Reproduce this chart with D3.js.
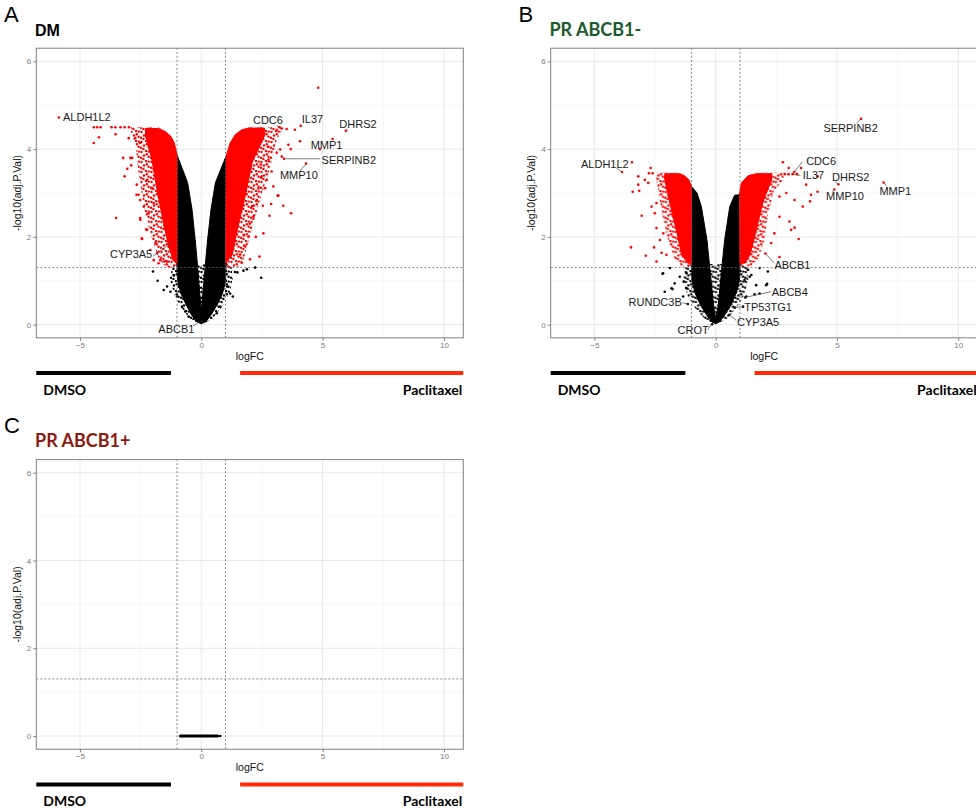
<!DOCTYPE html>
<html>
<head>
<meta charset="UTF-8">
<title>Volcano plots</title>
<script src="https://d3js.org/d3.v7.min.js"></script>
<style>
  body { margin: 0; background: #fff; }
  svg { display: block; }
  .tick-label { font-family: "Liberation Sans", Arial, sans-serif; font-size: 8px; fill: #7a7a7a; }
  .axis-title { font-family: "Liberation Sans", Arial, sans-serif; font-size: 10.5px; fill: #111; }
  .gene { font-family: "Liberation Sans", Arial, sans-serif; font-size: 11px; fill: #1a1a1a; }
</style>
</head>
<body>
<svg id="chart" width="976" height="810"></svg>
<script>
// ---- axis settings ----
const xDomain = [-6.8, 10.8];
const yDomain = [-0.3, 6.3];
const xMajor = [-5, 0, 5, 10], xMinor = [-2.5, 2.5, 7.5];
const yMajor = [0, 2, 4, 6], yMinor = [1, 3, 5];
const fcCut = 1, pCut = 1.30103;

// ---- panel A : DM ----
// dense black (non significant) V and its sparser lower fringe
const aBlackV = [[-1,3.87],[-1,1.3],[-0.97,1.0],[-0.85,0.72],[-0.62,0.45],[-0.4,0.22],[-0.2,0.07],[0,0.02],
  [0.2,0.07],[0.4,0.22],[0.65,0.45],[0.88,0.72],[1.0,1.0],[1.02,1.3],[1.03,3.85],
  [0.58,3.23],[0.40,2.62],[0.26,1.93],[0.16,1.32],[0.04,0.56],[0,0.3],[-0.04,0.56],[-0.15,1.32],[-0.25,1.93],[-0.38,2.62],[-0.56,3.23]];
const aBlackFringe = [[-1,1.38],[-1.2,1.3],[-1.3,1.05],[-1.12,0.7],[-0.85,0.4],[-0.45,0.13],[0,0],[0.45,0.13],[0.85,0.4],
  [1.15,0.7],[1.3,1.05],[1.25,1.3],[1,1.38]];
// dense red clouds (core) and their sparser fringe
const aRedLeft = [[-1,1.4],[-1,3.87],[-1.11,4.14],[-1.25,4.29],[-1.48,4.40],[-1.75,4.47],[-2.3,4.47],[-2.3,4.3],[-2.05,3.8],
  [-1.8,3.0],[-1.55,2.3],[-1.35,1.8],[-1.15,1.45]];
const aRedLeftFringe = [[-1,1.3],[-1,3.87],[-1.11,4.14],[-1.25,4.29],[-1.48,4.40],[-1.75,4.49],[-2.9,4.5],[-2.9,4.4],
  [-2.7,4.1],[-2.6,3.5],[-2.4,2.8],[-2.3,2.5],[-2.05,2.0],[-1.75,1.5],[-1.45,1.3]];
const aRedRight = [[1,1.4],[1.03,3.85],[1.19,4.14],[1.40,4.33],[1.67,4.44],[1.95,4.48],[2.6,4.48],[2.6,4.3],[2.1,3.7],
  [1.8,2.9],[1.5,2.2],[1.28,1.6]];
const aRedRightFringe = [[1,1.3],[1.03,3.85],[1.19,4.14],[1.40,4.33],[1.67,4.44],[1.95,4.49],[3.3,4.5],[3.3,4.4],[3.1,4.2],
  [2.8,3.5],[2.5,3.0],[2.25,2.5],[2.0,2.0],[1.75,1.5],[1.5,1.3]];
const aRedPts = [[-5.87,4.72],[-4.43,4.5],[-4.29,4.5],[-4.15,4.5],[-3.70,4.5],[-3.54,4.5],[-3.33,4.5],[-3.16,4.5],[-2.98,4.5],
  [-4.22,4.27],[-4.43,4.14],[-3.53,4.34],[-3.22,3.80],[-3.16,3.38],[-2.92,3.80],[-2.99,4.25],[-2.89,3.63],[-3.05,3.55],
  [-3.51,2.43],[-2.67,2.96],[-2.51,2.39],[-2.44,1.95],[-2.23,2.16],[-1.96,2.77],[-1.89,1.86],[-1.82,1.63],[-1.69,1.47],
  [-1.41,1.44],[-2.17,2.54],[-2.37,2.69],[-2.03,3.11],[-2.66,3.19],[-2.59,2.96],[-2.52,2.84],[-2.52,2.43],[-2.45,1.97],
  [-2.27,2.17],[-2.10,1.70],[-2.23,3.30],[-2.85,3.80],[-2.52,4.14],[-2.72,4.25],[-1.96,1.47],[-1.76,1.40],[-1.53,1.44],[-1.15,1.89],
  [4.82,5.40],[4.10,4.53],[3.86,4.44],[3.52,4.46],[4.07,4.18],[5.96,4.42],[5.41,4.23],[4.89,4.00],[3.41,3.78],[4.32,3.67],
  [3.70,2.54],[3.38,2.71],[3.15,2.94],[2.88,2.75],[2.81,2.48],[2.56,2.08],[2.54,2.71],[2.40,1.55],[2.01,1.49],[1.67,1.41],
  [2.90,3.49],[2.97,3.15],[2.63,3.11],[3.25,3.99],[3.32,3.83],[3.59,4.10],[3.69,4.00],[3.11,3.92],[3.32,4.47],[3.11,4.44],
  [3.22,4.50],[2.77,3.76],[2.49,3.38],[2.29,2.84],[2.15,2.46],[1.95,2.01],[1.81,1.78],[3.18,2.94],[2.6,4.35],[2.75,4.05],
  [2.45,3.65],[2.7,3.3],[2.35,3.1],[2.1,2.7],[2.0,2.3],[1.75,2.05],[2.25,2.0],[1.6,1.6]];
const aBlackPts = [[-1.99,1.21],[-1.80,1.00],[1.30,0.64],[2.47,1.07],[2.22,1.30],[1.88,1.26],[1.74,1.23],[1.49,1.19],[1.39,1.20],
  [-1.14,1.13],[-1.41,0.87],[-1.55,0.79],[-1.27,0.75],[-1.0,0.64],[-0.79,0.41],[-0.66,0.30],[-0.52,0.18],[1.06,0.87],
  [1.19,0.71],[0.99,1.02],[0.78,0.41],[0.64,0.26],[-0.09,0.06]];
// gene labels: text anchor (tx,ty), optional segment from (sx,sy) to point (px,py)
const aLabels = [
  {gene:"ALDH1L2", tx:-5.70, ty:4.63},
  {gene:"CDC6", tx:2.13, ty:4.57, sx:3.12, sy:4.54, px:3.22, py:4.50},
  {gene:"IL37", tx:4.14, ty:4.60},
  {gene:"DHRS2", tx:5.69, ty:4.48, sx:6.05, sy:4.46, px:5.96, py:4.42},
  {gene:"MMP1", tx:4.51, ty:4.00},
  {gene:"SERPINB2", tx:4.96, ty:3.67, sx:4.89, sy:3.78, px:3.41, py:3.78},
  {gene:"MMP10", tx:3.24, ty:3.32, sx:4.07, sy:3.50, px:4.32, py:3.67},
  {gene:"CYP3A5", tx:-3.76, ty:1.52, sx:-1.99, sy:1.56, px:-1.15, py:1.89},
  {gene:"ABCB1", tx:-1.77, ty:-0.19, sx:-0.34, sy:-0.03, px:-0.09, py:0.06}
];

// ---- panel B : PR ABCB1- ----
const bBlackV = [[-1,3.15],[-1,1.3],[-0.98,1.0],[-0.85,0.72],[-0.6,0.42],[-0.35,0.2],[-0.15,0.06],[0,0.02],
  [0.15,0.06],[0.35,0.2],[0.6,0.42],[0.85,0.72],[0.98,1.0],[1.0,1.3],[0.98,2.96],
  [0.78,2.95],[0.58,2.69],[0.37,1.93],[0.23,1.17],[0.10,0.41],[0,0.15],[-0.08,0.41],[-0.22,1.17],[-0.36,1.93],[-0.59,2.69],[-0.77,3.0]];
const bBlackFringe = [[-1,1.38],[-1.25,1.3],[-1.35,1.0],[-1.15,0.65],[-0.85,0.38],[-0.45,0.13],[0,0],[0.45,0.13],[0.85,0.38],
  [1.15,0.65],[1.35,1.0],[1.3,1.3],[1,1.38]];
const bRedLeft = [[-1,1.4],[-1,3.15],[-1.1,3.3],[-1.3,3.4],[-1.5,3.44],[-2.1,3.44],[-2.1,3.3],[-1.9,2.8],[-1.6,2.1],
  [-1.4,1.6],[-1.15,1.4]];
const bRedLeftFringe = [[-1,1.33],[-1,3.15],[-1.1,3.3],[-1.3,3.4],[-1.5,3.46],[-2.45,3.47],[-2.45,3.3],[-2.35,3.0],
  [-2.2,2.5],[-1.95,1.9],[-1.7,1.5],[-1.4,1.33]];
const bRedRight = [[1,1.4],[0.98,2.96],[1.06,3.23],[1.33,3.39],[1.67,3.44],[2.3,3.44],[2.3,3.3],[1.95,2.8],[1.65,2.1],
  [1.42,1.6],[1.2,1.4]];
const bRedRightFringe = [[1,1.33],[0.98,2.96],[1.06,3.23],[1.33,3.39],[1.67,3.46],[2.8,3.47],[2.8,3.3],[2.4,3.05],
  [2.15,2.5],[2.0,1.9],[1.75,1.5],[1.45,1.33]];
const bRedPts = [[-3.45,3.70],[-3.86,3.48],[-2.68,3.57],[-3.42,3.03],[-3.15,3.05],[-3.19,3.38],[-3.05,2.48],[-3.49,1.76],
  [-2.88,1.57],[-2.54,1.76],[-2.30,1.93],[-2.44,2.20],[-2.44,2.77],[-2.78,3.23],[-2.92,3.30],[-2.64,2.69],[-2.23,1.64],
  [-2.03,1.59],[-2.16,2.08],[-3.19,3.19],[-2.51,2.54],[-2.44,1.44],[-2.6,3.45],[-2.75,3.45],
  [2.77,3.70],[3.01,3.57],[3.52,3.57],[4.20,3.38],[4.20,3.03],[3.89,2.81],[3.59,2.69],[3.93,2.96],[3.25,2.84],[2.91,3.00],
  [2.63,2.92],[3.42,1.95],[3.04,2.35],[3.11,2.16],[2.63,2.46],[2.42,2.08],[2.63,1.54],[2.29,1.86],[2.05,1.62],[3.25,2.21],
  [3.73,3.19],[5.99,4.69],[5.06,3.20],[4.89,3.08],[6.92,3.24],[3.24,3.48],[3.17,3.43],[2.85,3.43],[3.0,3.43],[3.35,3.43]];
const bBlackPts = [[-1.89,1.29],[-2.17,1.17],[-1.82,0.83],[-1.69,0.94],[-1.20,1.17],[-1.20,0.83],[-1.34,0.64],[-2.19,1.16],
  [-2.10,0.75],[-1.78,0.81],[-1.32,0.98],[-1.48,1.09],[1.33,1.25],[1.47,1.13],[1.67,0.90],[1.81,0.71],[2.08,0.90],[1.26,0.64],
  [1.13,0.41],[1.19,1.02],[1.81,1.29],[2.15,1.21],[2.12,0.93],[1.40,1.09],[1.22,0.62],[1.60,0.69],[0.77,0.39],[0.56,0.22],
  [-1.15,0.47],[-0.15,0.01]];
const bLabels = [
  {gene:"SERPINB2", tx:4.44, ty:4.40, sx:5.80, sy:4.59, px:5.99, py:4.69},
  {gene:"ALDH1L2", tx:-5.55, ty:3.57, sx:-4.09, sy:3.57, px:-3.86, py:3.48},
  {gene:"CDC6", tx:3.73, ty:3.63, sx:3.57, sy:3.71, px:3.24, py:3.48},
  {gene:"IL37", tx:3.59, ty:3.31, sx:3.49, sy:3.40, px:3.17, py:3.43},
  {gene:"DHRS2", tx:4.80, ty:3.28, sx:4.93, sy:3.25, px:5.06, py:3.20},
  {gene:"MMP10", tx:4.55, ty:2.84, sx:4.81, sy:3.02, px:4.89, py:3.08},
  {gene:"MMP1", tx:6.75, ty:2.95, sx:7.04, sy:3.16, px:6.92, py:3.24},
  {gene:"ABCB1", tx:2.42, ty:1.27, sx:2.42, sy:1.40, px:2.05, py:1.62},
  {gene:"ABCB4", tx:2.31, ty:0.65, sx:2.28, sy:0.75, px:1.22, py:0.62},
  {gene:"TP53TG1", tx:1.18, ty:0.31, sx:1.15, sy:0.41, px:0.77, py:0.39},
  {gene:"CYP3A5", tx:0.88, ty:-0.03, sx:0.84, sy:0.10, px:0.56, py:0.22},
  {gene:"RUNDC3B", tx:-3.59, ty:0.42, sx:-1.38, sy:0.50, px:-1.15, py:0.47},
  {gene:"CROT", tx:-1.57, ty:-0.21, sx:-0.33, sy:-0.11, px:-0.15, py:0.01}
];

// ---- panel C : PR ABCB1+ (all genes at adj.P = 1) ----
const cLine = [[-0.86,0],[0.67,0]];
const cBlackPts = [[0.78,0]];

const svg = d3.select("#chart");
svg.append("rect").attr("width", 976).attr("height", 810).attr("fill", "#fff");

// speckle textures for the sparse fringes of the point clouds
const defs = svg.append("defs");
const speck = [[1.5,2],[6,1],[4,5.5],[8.6,6.8],[1,7.8],[6.8,4.2],[3.4,9],[8.8,1.6]];
[["speckRed", "#ff0000"], ["speckBlack", "#000"]].forEach(([id, col]) => {
  const p = defs.append("pattern").attr("id", id).attr("patternUnits", "userSpaceOnUse").attr("width", 10).attr("height", 10);
  p.selectAll("circle").data(speck).join("circle").attr("cx", d => d[0]).attr("cy", d => d[1]).attr("r", 1.2).attr("fill", col);
});

function panel(ox, oy, letter, title, titleFont, titleColor, d) {
  const g = svg.append("g").attr("transform", `translate(${ox},${oy})`);
  const x = d3.scaleLinear().domain(xDomain).range([36.3, 463.3]);
  const y = d3.scaleLinear().domain(yDomain).range([337.8, 48.2]);
  const [x0, x1] = x.range(), [y0, y1] = y.range();

  g.append("text").attr("x", 4).attr("y", 21.5)
    .style("font-family", "Liberation Sans, Arial, sans-serif").style("font-size", "22px").text(letter);
  g.append("text").attr("x", 35).attr("y", 36)
    .style("font-family", titleFont.family).style("font-size", titleFont.size).style("font-weight", "bold")
    .attr("fill", titleColor).text(title);

  // grid
  g.selectAll(".gxm").data(xMinor).join("line").attr("x1", x).attr("x2", x).attr("y1", y0).attr("y2", y1)
    .attr("stroke", "#f3f3f3").attr("stroke-width", 0.7);
  g.selectAll(".gym").data(yMinor).join("line").attr("y1", y).attr("y2", y).attr("x1", x0).attr("x2", x1)
    .attr("stroke", "#f3f3f3").attr("stroke-width", 0.7);
  g.selectAll(".gx").data(xMajor).join("line").attr("x1", x).attr("x2", x).attr("y1", y0).attr("y2", y1)
    .attr("stroke", "#e8e8e8").attr("stroke-width", 1);
  g.selectAll(".gy").data(yMajor).join("line").attr("y1", y).attr("y2", y).attr("x1", x0).attr("x2", x1)
    .attr("stroke", "#e8e8e8").attr("stroke-width", 1);

  const line = d3.line().x(p => x(p[0])).y(p => y(p[1]));
  const poly = d3.line().x(p => x(p[0])).y(p => y(p[1])).curve(d3.curveLinearClosed);

  (d.fringes || []).forEach(([pl, fill]) => g.append("path").attr("d", poly(pl)).attr("fill", `url(#${fill})`));
  if (d.blackV) g.append("path").attr("d", poly(d.blackV)).attr("fill", "#000").attr("stroke", "#000").attr("stroke-width", 1);
  (d.redPolys || []).forEach(pl => g.append("path").attr("d", poly(pl))
    .attr("fill", "#ff0000").attr("stroke", "#ff0000").attr("stroke-width", 1));
  if (d.cLine) g.append("path").attr("d", line(d.cLine)).attr("stroke", "#000").attr("stroke-width", 3)
    .attr("stroke-linecap", "round");

  g.selectAll(".bp").data(d.blackPts || []).join("circle")
    .attr("cx", p => x(p[0])).attr("cy", p => y(p[1])).attr("r", 1.3).attr("fill", "#000");
  g.selectAll(".rp").data(d.redPts || []).join("circle")
    .attr("cx", p => x(p[0])).attr("cy", p => y(p[1])).attr("r", 1.3).attr("fill", "#ff0000");

  // thresholds
  g.selectAll(".vl").data([-fcCut, fcCut]).join("line").attr("x1", x).attr("x2", x).attr("y1", y0).attr("y2", y1)
    .attr("stroke", "#666").attr("stroke-width", 0.8).attr("stroke-dasharray", "2,2");
  g.append("line").attr("x1", x0).attr("x2", x1).attr("y1", y(pCut)).attr("y2", y(pCut))
    .attr("stroke", "#666").attr("stroke-width", 0.8).attr("stroke-dasharray", "2,2");

  // gene labels
  (d.labels || []).forEach(l => {
    if (l.sx !== undefined) g.append("line").attr("x1", x(l.sx)).attr("y1", y(l.sy)).attr("x2", x(l.px)).attr("y2", y(l.py))
      .attr("stroke", "#444").attr("stroke-width", 0.7);
    g.append("text").attr("class", "gene").attr("x", x(l.tx)).attr("y", y(l.ty)).text(l.gene);
  });

  // frame
  g.append("rect").attr("x", x0).attr("y", y1).attr("width", x1 - x0).attr("height", y0 - y1)
    .attr("fill", "none").attr("stroke", "#808080").attr("stroke-width", 1);

  // axes
  g.append("g").attr("transform", `translate(0,${y0})`)
    .call(d3.axisBottom(x).tickValues(xMajor).tickSize(3).tickFormat(d3.format("d")))
    .call(a => a.select(".domain").remove())
    .call(a => a.selectAll("line").attr("stroke", "#808080"))
    .call(a => a.selectAll("text").attr("class", "tick-label").attr("fill", null).attr("dy", "0.9em").attr("y", 3));
  g.append("g").attr("transform", `translate(${x0},0)`)
    .call(d3.axisLeft(y).tickValues(yMajor).tickSize(3).tickFormat(d3.format("d")))
    .call(a => a.select(".domain").remove())
    .call(a => a.selectAll("line").attr("stroke", "#808080"))
    .call(a => a.selectAll("text").attr("class", "tick-label").attr("fill", null).attr("x", -5));

  g.append("text").attr("class", "axis-title").attr("x", (x0 + x1) / 2).attr("y", 360).attr("text-anchor", "middle").text("logFC");
  g.append("text").attr("class", "axis-title").attr("transform", `translate(21,${(y0 + y1) / 2}) rotate(-90)`)
    .attr("text-anchor", "middle").text("-log10(adj.P.Val)");

  // condition bars
  g.append("line").attr("x1", x0).attr("x2", x(-1.25)).attr("y1", 373).attr("y2", 373).attr("stroke", "#000").attr("stroke-width", 4);
  g.append("line").attr("x1", x(1.6)).attr("x2", x1).attr("y1", 373).attr("y2", 373).attr("stroke", "#ff2a0a").attr("stroke-width", 4);
  g.append("text").attr("x", x0 + 7).attr("y", 395).style("font-family", "Lato, sans-serif").style("font-weight", "bold")
    .style("font-size", "14px").text("DMSO");
  g.append("text").attr("x", x1 - 1).attr("y", 395).attr("text-anchor", "end").style("font-family", "Lato, sans-serif")
    .style("font-weight", "bold").style("font-size", "14px").text("Paclitaxel");
}

panel(0, 0, "A", "DM", {family: "Liberation Sans, Arial, sans-serif", size: "16px"}, "#000",
  {blackV: aBlackV, redPolys: [aRedLeft, aRedRight], redPts: aRedPts, blackPts: aBlackPts, labels: aLabels,
   fringes: [[aBlackFringe, "speckBlack"], [aRedLeftFringe, "speckRed"], [aRedRightFringe, "speckRed"]]});
panel(514.4, 0, "B", "PR ABCB1-", {family: "Lato, sans-serif", size: "18px"}, "#1b5a2c",
  {blackV: bBlackV, redPolys: [bRedLeft, bRedRight], redPts: bRedPts, blackPts: bBlackPts, labels: bLabels,
   fringes: [[bBlackFringe, "speckBlack"], [bRedLeftFringe, "speckRed"], [bRedRightFringe, "speckRed"]]});
panel(0, 411.4, "C", "PR ABCB1+", {family: "Lato, sans-serif", size: "18px"}, "#8c1c12",
  {cLine: cLine, blackPts: cBlackPts});
</script>
</body>
</html>
